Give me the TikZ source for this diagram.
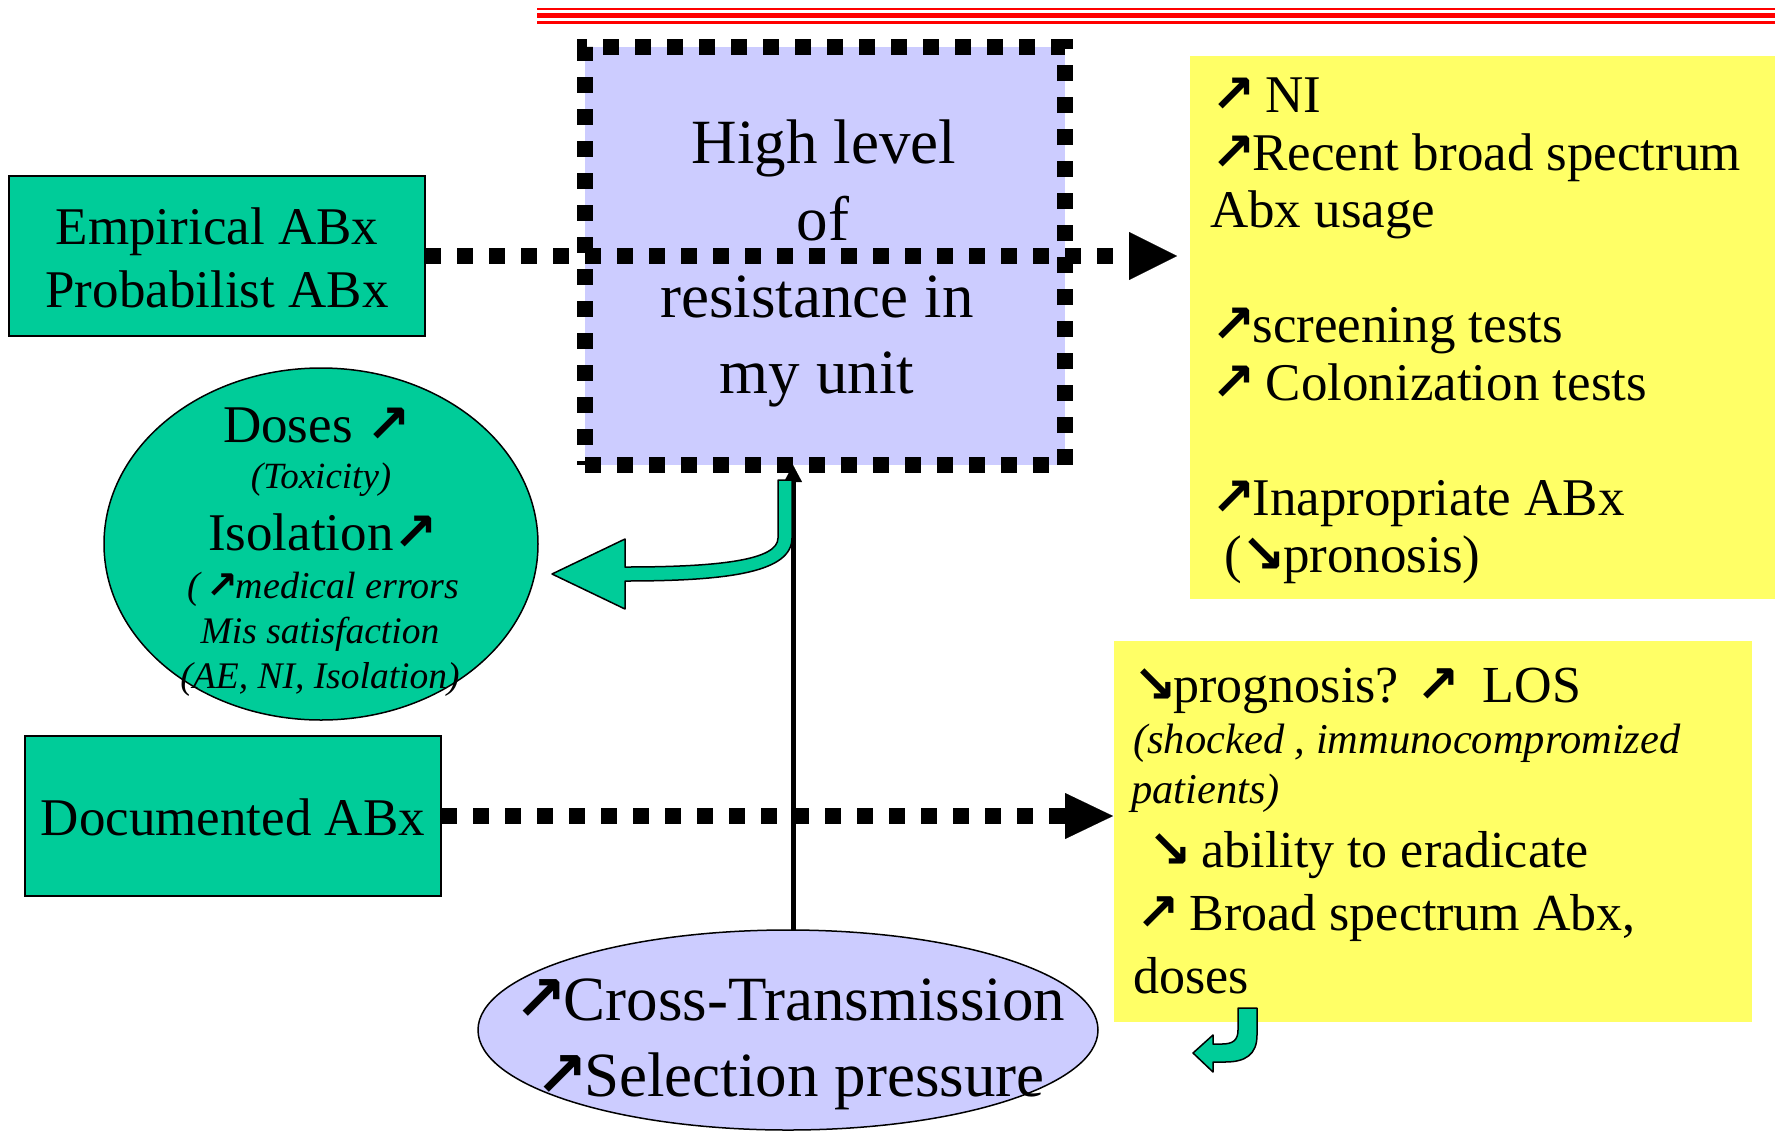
\documentclass[tikz,border=0pt]{standalone}
\usepackage{fontspec}
\setmainfont{Liberation Serif}
\newfontfamily\arrf{DejaVu Sans Bold}[Scale=1.0]
\usetikzlibrary{shapes.geometric,arrows.meta,backgrounds}
\definecolor{pgreen}{HTML}{00CC99}
\definecolor{pblue}{HTML}{CCCCFF}
\definecolor{pyellow}{HTML}{FFFF66}
\newcommand\fs[1]{\fontsize{#1}{#1}\selectfont}
\newcommand\nea{{\arrf ↗}\kern-0.06em}
\newcommand\sea{{\arrf ↘}\kern-0.06em}
\begin{document}
\begin{tikzpicture}[x=1pt,y=-1pt,
  greenbox/.style={draw=black, line width=2pt, fill=pgreen, inner sep=0pt, outer sep=0pt, minimum width=416pt, minimum height=160pt},
  corebox/.style={draw=black, fill=pblue, line width=15.5pt, dash pattern=on 16pt off 16pt, inner sep=0pt, outer sep=0pt, minimum width=480pt, minimum height=418pt},
  yellowbox/.style={fill=pyellow, inner sep=0pt, outer sep=0pt},
  greenell/.style={ellipse, draw=black, line width=1.5pt, fill=pgreen, inner sep=0pt, outer sep=0pt},
  blueell/.style={ellipse, draw=black, line width=1.5pt, fill=pblue, inner sep=0pt, outer sep=0pt},
  dotline/.style={line width=15.5pt, dash pattern=on 16pt off 16pt},
  bigtip/.style={-{Triangle[length=48pt,width=#1,line width=0.1pt]}},
  tc/.style={inner sep=0pt, anchor=base},
  tl/.style={inner sep=0pt, anchor=base west},
  blockarrow/.style={draw=black, line width=1.5pt, fill=pgreen, line join=round}
]
\useasboundingbox (0,0) rectangle (1775,1136);

% red rules at top
\draw[red, line width=2pt] (537,9) -- (1775,9);
\draw[red, line width=4.7pt] (537,15.6) -- (1775,15.6);
\draw[red, line width=3.3pt] (537,22.4) -- (1775,22.4);

% yellow boxes
\node[yellowbox, minimum width=585pt, minimum height=543pt] (y1) at (1482.5,327.5) {};
\node[yellowbox, minimum width=638pt, minimum height=381pt] (y2) at (1433,831.5) {};

% shapes
\node[greenbox] (emp) at (217,256) {};
\node[greenbox] (doc) at (233,816) {};
\node[greenell, minimum width=434pt, minimum height=352pt] (ell) at (321,544) {};
\node[blueell, minimum width=620pt, minimum height=200pt] (bot) at (788,1030) {};
\node[corebox] (core) at (825,256) {};

% vertical black arrow (behind the dotted border)
\coordinate (vx) at (793,0);
\begin{pgfonlayer}{background}
\fill[white] (0,0) rectangle (1775,1136);
\draw[line width=5pt, -{Triangle[length=17pt,width=18pt,line width=0.1pt]}] (bot.north -| vx) -- (core.south -| vx);
\end{pgfonlayer}

% dotted connectors
\draw[dotline, bigtip=48pt] (emp.east) -- ([xshift=-13pt]emp.east -| y1.west);
\draw[dotline, bigtip=46pt] (doc.east) -- ([xshift=-1pt]doc.east -| y2.west);

% green bent arrow from core to ellipse
\draw[blockarrow] (792,480) -- (792,538) .. controls (792,572) and (730,581) .. (625,581)
  -- (625,609) -- (552,574) -- (625,539) -- (625,567)
  .. controls (720,567) and (778,560) .. (778,538) -- (778,480) -- cycle;

% small green bent arrow under lower yellow box
\draw[blockarrow] (1257,1008) -- (1257,1035) .. controls (1257,1055) and (1245,1062) .. (1225,1062)
  -- (1213,1062) -- (1213,1072) -- (1193,1053) -- (1213,1035) -- (1213,1044) -- (1222,1044)
  .. controls (1233,1044) and (1238,1040) .. (1238,1030) -- (1238,1008) -- cycle;

% texts: core
\node[tc] (c1) at (824,163) {\fs{63}High level};
\node[tc] (c2) at (823,240) {\fs{63}of};
\node[tc] (c3) at (817,317) {\fs{63}resistance in};
\node[tc] (c4) at (817,393) {\fs{63}my unit};

% empirical / documented
\node[tc] (e1) at (217,244) {\fs{53}Empirical ABx};
\node[tc] (e2) at (217,307) {\fs{53}Probabilist ABx};
\node[tc] (d1) at (233,835) {\fs{53}Documented ABx};

% green ellipse
\node[tl] (g1) at (223,442) {\fs{53}Doses \nea};
\node[tc] (g2) at (321,488) {\fs{37}\itshape (Toxicity)};
\node[tl] (g3) at (208,550) {\fs{53}Isolation\nea};
\node[tl] (g4) at (187,598) {\fs{38}\itshape (\,\nea medical errors};
\node[tc] (g5) at (320,643) {\fs{37.5}\itshape Mis satisfaction};
\node[tc] (g6) at (320,688) {\fs{37.5}\itshape (AE, NI, Isolation)};

% upper yellow
\node[tl] (u1) at (1211,112) {\fs{53}\nea\ NI};
\node[tl] (u2) at (1211,170) {\fs{53}\nea Recent broad spectrum};
\node[tl] (u3) at (1210,227) {\fs{53}Abx usage};
\node[tl] (u4) at (1211,342) {\fs{53}\nea screening tests};
\node[tl] (u5) at (1211,400) {\fs{53}\nea\ Colonization tests};
\node[tl] (u6) at (1211,515) {\fs{53}\nea Inapropriate ABx};
\node[tl] (u7) at (1224,572) {\fs{53}(\sea pronosis)};

% lower yellow
\node[tl] (l1) at (1133,702) {\fs{52}\sea prognosis? \nea\ \ LOS};
\node[tl] (l2) at (1133,753) {\fs{42.5}\itshape (shocked , immunocompromized};
\node[tl] (l3) at (1131,803) {\fs{42.5}\itshape patients)};
\node[tl] (l4) at (1148,867) {\fs{52}\sea\ ability to eradicate};
\node[tl] (l5) at (1136,930) {\fs{52}\nea\ Broad spectrum Abx,};
\node[tl] (l6) at (1133,993) {\fs{52}doses};

% bottom ellipse
\node[tc] (b1) at (790,1020) {\fs{63}\nea Cross-Transmission};
\node[tc] (b2) at (790,1096) {\fs{63}\nea Selection pressure};
\end{tikzpicture}
\end{document}
